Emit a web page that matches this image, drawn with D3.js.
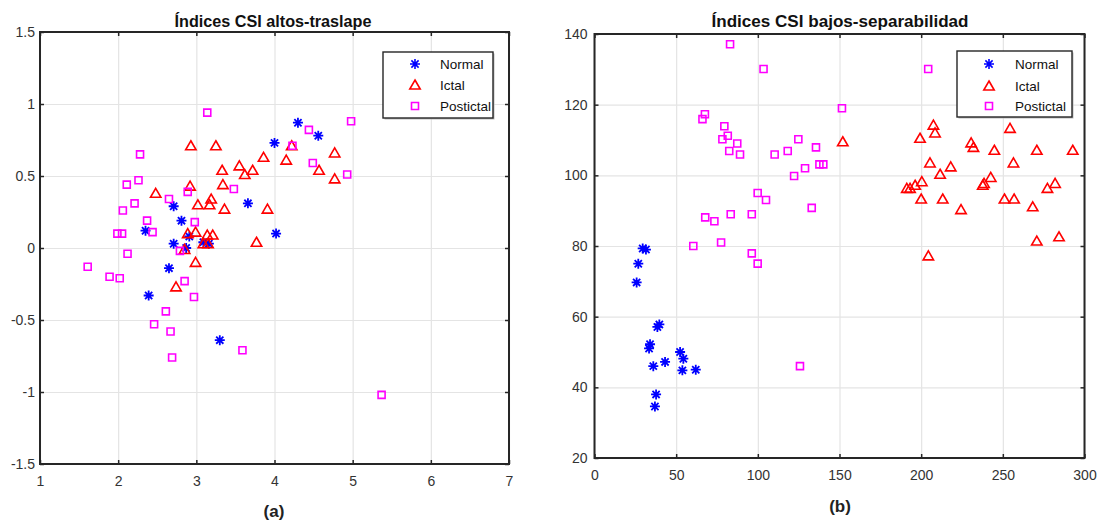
<!DOCTYPE html>
<html>
<head>
<meta charset="utf-8">
<script src="https://cdn.jsdelivr.net/npm/d3@7"></script>
<style>
  body { margin: 0; background: #fff; }
  svg text { font-family: "Liberation Sans", Arial, sans-serif; }
</style>
</head>
<body>
<svg id="chart" width="1098" height="525"></svg>
<script>
// ---- data ----
// panel (a): high CSI indices, overlap
const aNormal = [[4.00,0.73],[3.66,0.31],[2.71,0.29],[2.81,0.19],[2.35,0.12],[4.02,0.10],[2.71,0.03],[2.91,0.08],
  [2.87,0.00],[3.09,0.04],[3.16,0.03],[2.65,-0.14],[2.39,-0.33],[3.30,-0.64],[4.30,0.87],[4.56,0.78]];
const aIctal = [[2.93,0.71],[3.25,0.71],[2.48,0.38],[2.92,0.43],[3.33,0.54],[3.34,0.44],[3.55,0.57],[3.62,0.51],
  [3.72,0.54],[3.86,0.63],[4.15,0.61],[4.22,0.71],[4.77,0.66],[4.57,0.54],[4.77,0.48],[3.02,0.30],[3.19,0.34],
  [3.17,0.30],[3.36,0.27],[3.91,0.27],[2.89,0.10],[2.99,0.11],[3.14,0.09],[3.21,0.09],[3.09,0.03],[3.15,0.03],
  [2.85,-0.01],[3.77,0.04],[2.99,-0.10],[2.74,-0.27]];
const aPostictal = [[3.14,0.94],[2.28,0.65],[2.11,0.44],[2.26,0.47],[2.21,0.31],[2.06,0.26],[2.65,0.34],[2.89,0.39],
  [3.48,0.41],[2.37,0.19],[2.98,0.18],[1.99,0.10],[2.05,0.10],[2.44,0.11],[2.79,-0.02],[2.12,-0.04],[1.61,-0.13],
  [1.89,-0.20],[2.02,-0.21],[2.85,-0.23],[2.97,-0.34],[2.61,-0.44],[2.46,-0.53],[2.67,-0.58],[2.69,-0.76],
  [3.59,-0.71],[5.37,-1.02],[4.98,0.88],[4.44,0.82],[4.23,0.71],[4.49,0.59],[4.93,0.51]];

// panel (b): low CSI indices, separability
const bNormal = [[29.5,79.3],[31.5,79.0],[26.8,75.0],[25.8,69.7],[39.7,57.8],[38.5,57.1],[34.0,52.2],[33.4,51.0],
  [36.0,46.0],[43.2,47.2],[52.4,50.0],[54.4,48.1],[53.8,44.8],[62.0,45.0],[37.7,38.0],[37.0,34.6]];
const bIctal = [[207.5,114.2],[208.5,112.0],[254.4,113.3],[199.3,110.5],[152.0,109.5],[230.6,109.2],[232.0,107.9],
  [244.8,107.1],[270.8,107.1],[292.8,107.1],[256.5,103.5],[205.4,103.5],[218.1,102.4],[211.6,100.3],[242.6,99.4],
  [237.7,97.2],[238.5,97.7],[200.4,98.2],[196.3,97.2],[193.2,96.3],[191.2,96.3],[200.0,93.3],[213.2,93.3],
  [224.4,90.3],[251.0,93.3],[256.9,93.3],[268.3,91.1],[277.3,96.3],[282.0,97.7],[270.8,81.4],[284.4,82.6],
  [204.4,77.2]];
const bPostictal = [[83.0,137.1],[103.5,130.1],[204.3,130.1],[151.5,119.0],[67.6,117.3],[66.1,115.9],[79.5,113.9],
  [81.6,111.2],[78.3,110.2],[87.4,109.0],[82.5,106.9],[89.1,105.9],[110.3,105.9],[118.3,106.9],[124.8,110.2],
  [135.6,107.9],[128.9,102.0],[137.7,103.1],[140.1,103.1],[122.2,99.8],[99.9,95.0],[105.0,93.0],[133.0,90.8],
  [67.8,88.1],[73.4,87.0],[83.4,89.0],[96.3,89.0],[60.5,80.0],[77.5,81.0],[96.3,77.9],[99.9,75.0],[125.8,46.0]];

const seriesNames = ["Normal", "Ictal", "Postictal"];
const aXTicks = [1, 2, 3, 4, 5, 6, 7];
const aYTicks = [-1.5, -1, -0.5, 0, 0.5, 1, 1.5];
const bXTicks = [0, 50, 100, 150, 200, 250, 300];
const bYTicks = [20, 40, 60, 80, 100, 120, 140];

// ---- styles ----
const colors = { Normal: "#0000ff", Ictal: "#ff0000", Postictal: "#ff00ff" };
const axisColor = "#262626";

// marker paths, centered at 0,0
function markerPath(name) {
  if (name === "Normal") {
    const r = 5, d = r * 0.72;
    return `M${-r},0L${r},0M0,${-r}L0,${r}M${-d},${-d}L${d},${d}M${-d},${d}L${d},${-d}`;
  }
  if (name === "Ictal") return "M0,-5L5.2,4L-5.2,4Z";
  return "M-3.5,-3.5L3.5,-3.5L3.5,3.5L-3.5,3.5Z";
}

const svg = d3.select("#chart");

function drawPanel(p) {
  const g = svg.append("g");
  const x = d3.scaleLinear().domain(p.xDomain).range([p.left, p.right]);
  const y = d3.scaleLinear().domain(p.yDomain).range([p.bottom, p.top]);
  const w = p.right - p.left, h = p.bottom - p.top;

  // grid
  g.append("g").attr("transform", `translate(0,${p.bottom})`)
    .call(d3.axisBottom(x).tickValues(p.xTicks).tickSize(-h).tickFormat(""))
    .call(s => s.select(".domain").remove())
    .selectAll("line").attr("stroke", "#e4e4e4").attr("stroke-width", 1.2);
  g.append("g").attr("transform", `translate(${p.left},0)`)
    .call(d3.axisLeft(y).tickValues(p.yTicks).tickSize(-w).tickFormat(""))
    .call(s => s.select(".domain").remove())
    .selectAll("line").attr("stroke", "#e4e4e4").attr("stroke-width", 1.2);

  // axes with inward ticks on all sides
  const fmt = d => String(d);
  const ax = [
    g.append("g").attr("transform", `translate(0,${p.bottom})`)
      .call(d3.axisBottom(x).tickValues(p.xTicks).tickSizeInner(-4).tickSizeOuter(0).tickPadding(12).tickFormat(fmt)),
    g.append("g").attr("transform", `translate(${p.left},0)`)
      .call(d3.axisLeft(y).tickValues(p.yTicks).tickSizeInner(-4).tickSizeOuter(0).tickPadding(p.yPad).tickFormat(fmt)),
    g.append("g").attr("transform", `translate(0,${p.top})`)
      .call(d3.axisTop(x).tickValues(p.xTicks).tickSizeInner(-4).tickSizeOuter(0).tickFormat("")),
    g.append("g").attr("transform", `translate(${p.right},0)`)
      .call(d3.axisRight(y).tickValues(p.yTicks).tickSizeInner(-4).tickSizeOuter(0).tickFormat(""))
  ];
  ax.forEach(a => {
    a.select(".domain").remove();
    a.selectAll("line").attr("stroke", axisColor).attr("stroke-width", 1.5);
    a.selectAll("text").attr("fill", "#333").style("font-size", "14px");
  });
  g.append("rect").attr("x", p.left).attr("y", p.top).attr("width", w).attr("height", h)
    .attr("fill", "none").attr("stroke", axisColor).attr("stroke-width", 2);

  // points
  p.series.forEach(s => {
    g.append("g").selectAll("path").data(s.values).join("path")
      .attr("d", markerPath(s.name))
      .attr("transform", d => `translate(${x(d[0])},${y(d[1])})`)
      .attr("fill", "none")
      .attr("stroke", colors[s.name])
      .attr("stroke-width", s.name === "Normal" ? 1.8 : 1.6);
  });

  // title
  g.append("text").attr("x", p.titleX).attr("y", 27).attr("text-anchor", "middle")
    .attr("textLength", p.titleW).attr("lengthAdjust", "spacingAndGlyphs")
    .style("font-size", "16px").style("font-weight", "bold").attr("fill", "#111")
    .text(p.title);

  // legend
  const L = p.legend;
  g.append("rect").attr("x", L.x + 1.5).attr("y", L.y + 1.5).attr("width", L.w).attr("height", L.h)
    .attr("fill", "#bbb");
  g.append("rect").attr("x", L.x).attr("y", L.y).attr("width", L.w).attr("height", L.h)
    .attr("fill", "#fff").attr("stroke", axisColor).attr("stroke-width", 1.4);
  const rows = g.append("g").selectAll("g").data(seriesNames).join("g")
    .attr("transform", (d, i) => `translate(${L.x},${L.rows[i]})`);
  rows.append("path").attr("d", d => markerPath(d))
    .attr("transform", `translate(${L.mx},0)`)
    .attr("fill", "none").attr("stroke", d => colors[d]).attr("stroke-width", 1.6);
  rows.append("text").attr("x", L.tx).attr("dy", "0.35em")
    .style("font-size", "13.5px").attr("fill", "#111").text(d => d);

  // panel label
  g.append("text").attr("x", p.labelX).attr("y", p.labelY).attr("text-anchor", "middle")
    .style("font-size", "17px").style("font-weight", "bold").attr("fill", "#222")
    .text(p.label);
}

drawPanel({
  left: 40, right: 509, top: 32, bottom: 464,
  xDomain: [1, 7], yDomain: [-1.5, 1.5], xTicks: aXTicks, yTicks: aYTicks, yPad: 5,
  series: [{ name: "Normal", values: aNormal }, { name: "Ictal", values: aIctal }, { name: "Postictal", values: aPostictal }],
  title: "Índices CSI altos-traslape", titleX: 273, titleW: 197,
  legend: { x: 383, y: 52, w: 110, h: 66, rows: [64, 85, 106], mx: 32, tx: 57 },
  label: "(a)", labelX: 274, labelY: 517
});

drawPanel({
  left: 594.5, right: 1084.5, top: 34, bottom: 458,
  xDomain: [0, 300], yDomain: [20, 140], xTicks: bXTicks, yTicks: bYTicks, yPad: 7,
  series: [{ name: "Normal", values: bNormal }, { name: "Ictal", values: bIctal }, { name: "Postictal", values: bPostictal }],
  title: "Índices CSI bajos-separabilidad", titleX: 840, titleW: 257,
  legend: { x: 957, y: 51, w: 115, h: 66, rows: [64, 86, 106], mx: 32, tx: 58 },
  label: "(b)", labelX: 840, labelY: 512
});
</script>
</body>
</html>
